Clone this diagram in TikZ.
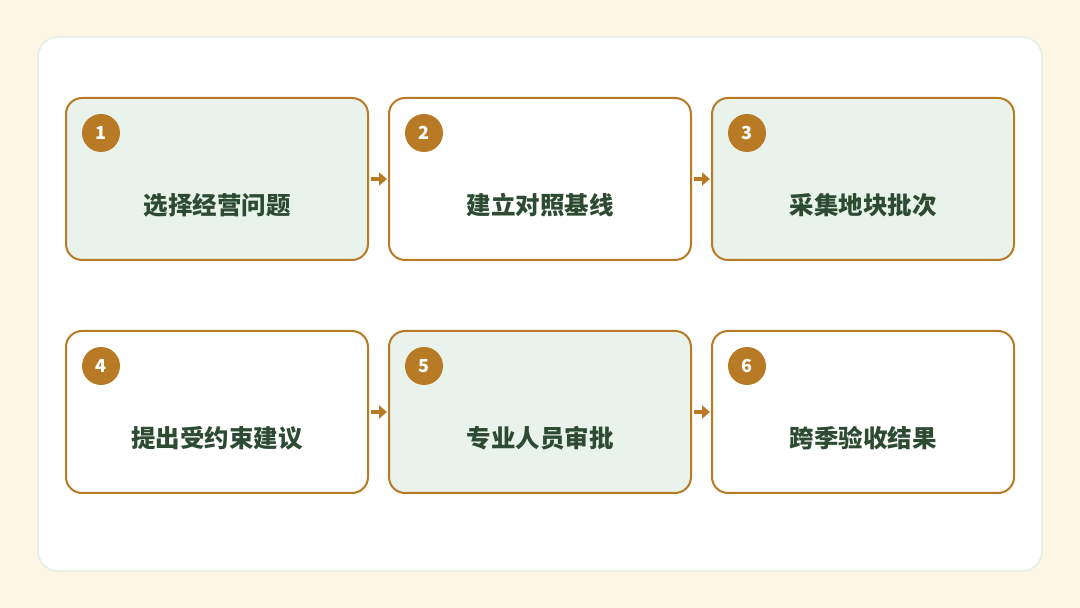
\documentclass[tikz,border=0pt]{standalone}
\usepackage{fontspec}
\newfontfamily\cjk{Noto Sans CJK SC}
\usetikzlibrary{positioning,arrows.meta}
\definecolor{paper}{HTML}{FDF6E4}
\definecolor{panelline}{HTML}{E3EEE5}
\definecolor{gold}{HTML}{B87A25}
\definecolor{mint}{HTML}{E9F3EB}
\definecolor{pine}{HTML}{2C4B32}

\begin{document}
\begin{tikzpicture}[x=1pt, y=1pt, node distance=19pt]
    \tikzstyle{stage} = [rectangle, draw=gold, line width=2pt, fill=white, minimum width=302pt, minimum height=162pt, rounded corners=16pt, inner sep=0pt]
    \tikzstyle{num} = [circle, fill=gold, text=white, minimum size=38pt, inner sep=0pt, font=\cjk\bfseries\fontsize{18}{18}\selectfont]
    \tikzstyle{title} = [text=pine, font=\cjk\bfseries\fontsize{24.5}{29}\selectfont]
    \tikzstyle{flow} = [draw=gold, line width=4.5pt, -{Triangle[length=8pt,width=13pt]}, shorten <=2pt, shorten >=1pt]

    % page and panel
    \fill[paper] (0,0) rectangle (1080,608);
    \filldraw[fill=white, draw=panelline, line width=1.5pt, rounded corners=20pt] (38,37) rectangle (1042,571);

    \node [stage, fill=mint] (s1) at (217,429) {};
    \node [stage, right=of s1] (s2) {};
    \node [stage, fill=mint, right=of s2] (s3) {};
    \node [stage, below=69pt of s1] (s4) {};
    \node [stage, fill=mint, right=of s4] (s5) {};
    \node [stage, right=of s5] (s6) {};

    \node [num] (n1) at ([xshift=36pt,yshift=-36pt]s1.north west) {1};
    \node [num] (n2) at ([xshift=36pt,yshift=-36pt]s2.north west) {2};
    \node [num] (n3) at ([xshift=36pt,yshift=-36pt]s3.north west) {3};
    \node [num] (n4) at ([xshift=36pt,yshift=-36pt]s4.north west) {4};
    \node [num] (n5) at ([xshift=36pt,yshift=-36pt]s5.north west) {5};
    \node [num] (n6) at ([xshift=36pt,yshift=-36pt]s6.north west) {6};

    \node [title] (t1) at ([yshift=-26pt]s1.center) {选择经营问题};
    \node [title] (t2) at ([yshift=-26pt]s2.center) {建立对照基线};
    \node [title] (t3) at ([yshift=-26pt]s3.center) {采集地块批次};
    \node [title] (t4) at ([yshift=-26pt]s4.center) {提出受约束建议};
    \node [title] (t5) at ([yshift=-26pt]s5.center) {专业人员审批};
    \node [title] (t6) at ([yshift=-26pt]s6.center) {跨季验收结果};

    \draw [flow] (s1) -- (s2);
    \draw [flow] (s2) -- (s3);
    \draw [flow] (s4) -- (s5);
    \draw [flow] (s5) -- (s6);
\end{tikzpicture}
\end{document}
